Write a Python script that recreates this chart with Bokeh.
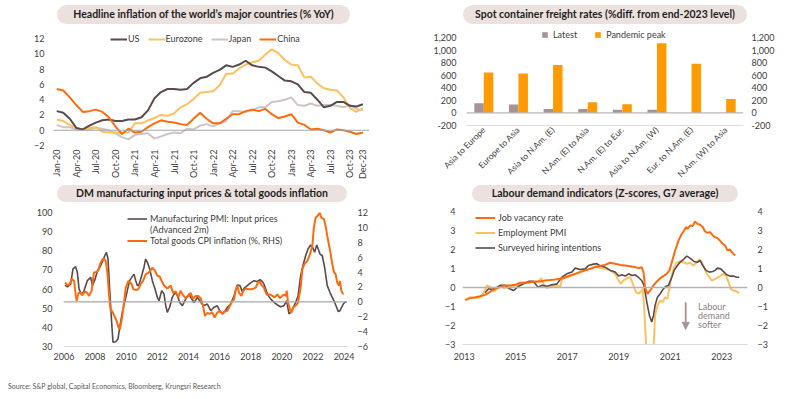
import pandas as pd
from math import pi
from bokeh.plotting import figure
from bokeh.models import (Range1d, LinearAxis, Span, Legend, LegendItem, FixedTicker,
                          NumeralTickFormatter, FactorRange, Div, Arrow, NormalHead, Label,
                          ColumnDataSource)
from bokeh.transform import dodge
from bokeh.layouts import column, row
from bokeh.embed import file_html
from bokeh.resources import INLINE

FONT = "Lato"
TXT = "#404040"
DARK = "#5b4a4a"
ORANGE = "#ff6a0d"
LIGHT_ORANGE = "#ffc160"
JAPAN = "#cfc4c4"
MAUVE = "#a89494"
PEAK = "#ff9a00"
PILL = "#ebe2df"
ZERO = "#a6a6a6"
AXIS_LIGHT = "#dcdcdc"

# ---------------- Panel 1: headline inflation ----------------
months = pd.date_range("2020-01-01", periods=48, freq="MS")
month_labels = [d.strftime("%b-%y") for d in months]
tick_labels_1 = ["Jan-20", "Apr-20", "Jul-20", "Oct-20", "Jan-21", "Apr-21", "Jul-21", "Oct-21",
                 "Jan-22", "Apr-22", "Jul-22", "Oct-22", "Jan-23", "Apr-23", "Jul-23", "Oct-23",
                 "Dec-23"]
us = [2.5, 2.3, 1.5, 0.3, 0.1, 0.6, 1.0, 1.3, 1.4, 1.2, 1.2, 1.4,
      1.4, 1.7, 2.6, 4.2, 5.0, 5.4, 5.4, 5.3, 5.4, 6.2, 6.8, 7.0,
      7.5, 7.9, 8.5, 8.3, 8.6, 9.1, 8.5, 8.3, 8.2, 7.7, 7.1, 6.5,
      6.4, 6.0, 5.0, 4.9, 4.0, 3.0, 3.2, 3.7, 3.7, 3.2, 3.1, 3.4]
eurozone = [1.4, 1.2, 0.7, 0.3, 0.1, 0.3, 0.4, -0.2, -0.3, -0.3, -0.3, -0.3,
            0.9, 0.9, 1.3, 1.6, 2.0, 1.9, 2.2, 3.0, 3.4, 4.1, 4.9, 5.0,
            5.1, 5.9, 7.4, 7.4, 8.1, 8.6, 8.9, 9.1, 9.9, 10.6, 10.1, 9.2,
            8.6, 8.5, 6.9, 7.0, 6.1, 5.5, 5.3, 5.2, 4.3, 2.9, 2.4, 2.9]
japan = [0.7, 0.4, 0.4, 0.1, 0.1, 0.1, 0.3, 0.2, 0.0, -0.4, -0.9, -1.2,
         -0.6, -0.5, -0.4, -1.1, -0.8, -0.5, -0.3, -0.4, 0.2, 0.1, 0.6, 0.8,
         0.5, 0.9, 1.2, 2.5, 2.5, 2.4, 2.6, 3.0, 3.0, 3.7, 3.8, 4.0,
         4.3, 3.3, 3.2, 3.5, 3.2, 3.3, 3.3, 3.2, 3.0, 3.3, 2.8, 2.6]
china = [5.4, 5.2, 4.3, 3.3, 2.4, 2.5, 2.7, 2.4, 1.7, 0.5, -0.5, 0.2,
         -0.3, -0.2, 0.4, 0.9, 1.3, 1.1, 1.0, 0.8, 0.7, 1.5, 2.3, 1.5,
         0.9, 0.9, 1.5, 2.1, 2.1, 2.5, 2.7, 2.5, 2.8, 2.1, 1.6, 1.8,
         2.1, 1.0, 0.7, 0.1, 0.2, 0.0, -0.3, 0.1, 0.0, -0.2, -0.5, -0.3]

# ---------------- Panel 2: freight rates ----------------
routes = ["Asia to Europe", "Europe to Asia", "Asia to N.Am. (E)", "N.Am. (E) to Asia",
          "N.Am. (E) to Eur.", "Asia to N.Am. (W)", "Eur. to N.Am. (E)", "N.Am. (W) to Asia"]
latest = [152, 136, 61, 61, 51, 51, 0, 0]
pandemic_peak = [645, 628, 762, 168, 140, 1108, 782, 222]

# ---------------- Panel 3: PMI input prices & goods CPI ----------------
pmi_year = [2006.07, 2006.22, 2006.43, 2006.58, 2006.75, 2006.86, 2006.97, 2007.14, 2007.29, 2007.50,
            2007.72, 2007.83, 2008.00, 2008.15, 2008.30, 2008.47, 2008.64, 2008.73, 2008.83, 2008.94,
            2009.05, 2009.15, 2009.32, 2009.47, 2009.60, 2009.75, 2009.92, 2010.07, 2010.22, 2010.35,
            2010.50, 2010.61, 2010.72, 2010.82, 2010.99, 2011.14, 2011.25, 2011.36, 2011.51, 2011.68,
            2011.85, 2012.00, 2012.11, 2012.28, 2012.43, 2012.54, 2012.64, 2012.79, 2012.96, 2013.14,
            2013.29, 2013.44, 2013.61, 2013.82, 2014.04, 2014.21, 2014.36, 2014.57, 2014.79, 2014.96,
            2015.21, 2015.43, 2015.64, 2015.86, 2016.03, 2016.18, 2016.33, 2016.50, 2016.71, 2016.93,
            2017.14, 2017.31, 2017.46, 2017.57, 2017.78, 2017.99, 2018.21, 2018.38, 2018.60, 2018.75,
            2018.85, 2019.02, 2019.17, 2019.32, 2019.50, 2019.71, 2019.92, 2020.14, 2020.31, 2020.46,
            2020.57, 2020.74, 2020.89, 2021.04, 2021.21, 2021.38, 2021.53, 2021.68, 2021.85, 2021.98,
            2022.11, 2022.24, 2022.34, 2022.45, 2022.60, 2022.75, 2022.92, 2023.09, 2023.24, 2023.39,
            2023.52, 2023.63, 2023.74, 2023.84, 2023.95, 2024.06, 2024.16]
pmi_value = [62.1, 61.2, 62.6, 70.5, 71.7, 68.7, 60.0, 56.9, 59.2, 64.4,
             66.1, 61.8, 65.2, 69.6, 71.3, 74.3, 77.8, 79.2, 75.7, 59.2,
             44.4, 32.2, 32.5, 33.9, 40.9, 47.8, 53.9, 59.2, 64.4, 66.1,
             67.8, 64.4, 61.8, 62.1, 67.0, 71.3, 75.7, 74.0, 70.5, 64.4,
             60.0, 55.7, 53.9, 59.2, 57.4, 51.3, 47.8, 50.5, 55.7, 58.3,
             56.5, 53.0, 51.3, 54.8, 57.4, 54.8, 53.0, 55.7, 53.1, 51.3,
             52.2, 48.7, 50.5, 51.3, 48.2, 47.0, 48.2, 50.5, 52.2, 56.5,
             62.1, 61.8, 58.6, 60.4, 61.8, 63.2, 64.4, 63.9, 64.9, 63.9,
             62.6, 58.6, 56.2, 54.5, 53.1, 51.7, 50.8, 51.3, 53.9, 47.0,
             47.8, 50.5, 53.1, 56.2, 67.0, 73.0, 77.4, 80.9, 83.0, 81.8,
             79.2, 83.0, 80.9, 78.3, 77.4, 71.3, 61.8, 58.3, 55.7, 53.1,
             50.5, 48.2, 48.7, 50.5, 52.2, 53.1, 53.4]
cpi_year = [2006.07, 2006.22, 2006.37, 2006.50, 2006.65, 2006.75, 2006.82, 2006.93, 2007.08, 2007.18,
            2007.35, 2007.50, 2007.61, 2007.78, 2007.93, 2008.08, 2008.21, 2008.32, 2008.47, 2008.57,
            2008.68, 2008.79, 2008.90, 2009.00, 2009.11, 2009.24, 2009.37, 2009.50, 2009.60, 2009.75,
            2009.86, 2009.97, 2010.14, 2010.22, 2010.35, 2010.46, 2010.61, 2010.78, 2010.93, 2011.08,
            2011.25, 2011.47, 2011.68, 2011.85, 2012.00, 2012.15, 2012.28, 2012.43, 2012.64, 2012.86,
            2013.01, 2013.18, 2013.35, 2013.50, 2013.65, 2013.82, 2013.99, 2014.14, 2014.29, 2014.46,
            2014.63, 2014.78, 2014.93, 2015.06, 2015.21, 2015.38, 2015.53, 2015.68, 2015.86, 2016.03,
            2016.18, 2016.33, 2016.50, 2016.67, 2016.82, 2016.93, 2017.03, 2017.14, 2017.25, 2017.40,
            2017.53, 2017.68, 2017.89, 2018.10, 2018.32, 2018.47, 2018.60, 2018.70, 2018.85, 2018.96,
            2019.07, 2019.24, 2019.39, 2019.54, 2019.71, 2019.88, 2020.03, 2020.14, 2020.25, 2020.31,
            2020.40, 2020.52, 2020.61, 2020.74, 2020.89, 2021.04, 2021.21, 2021.32, 2021.46, 2021.64,
            2021.81, 2021.96, 2022.06, 2022.17, 2022.32, 2022.43, 2022.54, 2022.71, 2022.81, 2022.96,
            2023.14, 2023.24, 2023.35, 2023.46, 2023.56, 2023.67, 2023.74, 2023.82, 2023.95]
cpi_value = [2.6, 2.2, 2.4, 3.1, 2.8, 1.0, 0.15, 1.2, 1.2, 0.9,
             1.4, 1.2, 0.8, 1.5, 3.95, 4.0, 4.2, 5.1, 5.7, 5.8,
             5.5, 3.95, 0.8, -1.2, -1.3, -1.9, -2.5, -3.4, -3.65, -1.9,
             -0.1, 1.9, 2.8, 2.7, 2.4, 1.7, 1.6, 1.7, 2.4, 2.8,
             3.7, 3.95, 4.6, 4.2, 3.5, 3.4, 2.8, 2.2, 1.8, 2.2,
             1.2, 1.4, 0.6, 1.5, 0.9, 0.5, 0.8, 1.2, 0.4, 0.8,
             0.8, 0.5, -0.5, -1.9, -1.5, -1.6, -1.4, -2.1, -1.4, -1.2,
             -1.6, -1.3, -1.2, -0.5, 0.15, 0.3, 1.5, 2.2, 1.2, 0.8,
             1.5, 1.8, 1.7, 1.7, 1.9, 2.6, 2.7, 2.25, 1.9, 1.3,
             0.9, 1.0, 0.8, 0.6, 1.0, 0.5, 0.8, 1.0, 0.8, 1.5,
             -0.1, -1.0, -1.5, -0.75, -0.5, -0.1, 1.9, 4.4, 5.1, 5.5,
             6.4, 7.5, 10.0, 11.3, 11.6, 12.0, 11.3, 11.1, 10.2, 8.4,
             6.4, 5.1, 4.0, 3.7, 2.6, 2.2, 2.8, 1.5, 1.0]

# ---------------- Panel 4: labour demand indicators ----------------
jv_year = [2013.04, 2013.23, 2013.43, 2013.62, 2013.81, 2013.94, 2014.07, 2014.20, 2014.40, 2014.59,
           2014.78, 2014.98, 2015.17, 2015.37, 2015.56, 2015.75, 2015.95, 2016.14, 2016.34, 2016.53,
           2016.72, 2016.92, 2017.11, 2017.31, 2017.50, 2017.70, 2017.89, 2018.08, 2018.28, 2018.47,
           2018.67, 2018.86, 2019.05, 2019.25, 2019.44, 2019.64, 2019.80, 2019.89, 2019.96, 2020.02,
           2020.11, 2020.22, 2020.35, 2020.48, 2020.61, 2020.73, 2020.86, 2020.97, 2021.06, 2021.19,
           2021.32, 2021.45, 2021.54, 2021.61, 2021.67, 2021.77, 2021.87, 2021.96, 2022.05, 2022.16,
           2022.26, 2022.35, 2022.44, 2022.55, 2022.65, 2022.74, 2022.83, 2022.93, 2023.04, 2023.13,
           2023.22, 2023.32, 2023.39, 2023.45, 2023.52]
jv_value = [-0.65, -0.56, -0.51, -0.46, -0.39, -0.28, -0.16, -0.07, 0.02, 0.11,
            0.11, 0.14, 0.25, 0.25, 0.28, 0.32, 0.32, 0.37, 0.39, 0.42,
            0.46, 0.54, 0.63, 0.72, 0.81, 0.90, 0.98, 1.07, 1.14, 1.19,
            1.30, 1.25, 1.19, 1.16, 1.12, 1.07, 1.02, 1.07, 0.81, 0.02,
            -0.33, -0.16, 0.11, 0.32, 0.49, 0.60, 0.72, 0.90, 1.33, 1.95,
            2.47, 2.83, 3.00, 3.18, 3.09, 3.26, 3.23, 3.47, 3.35, 3.30,
            3.18, 2.95, 2.88, 2.91, 2.74, 2.65, 2.60, 2.47, 2.30, 2.21,
            1.95, 2.00, 1.86, 1.77, 1.68]
emp_year = [2013.04, 2013.23, 2013.43, 2013.62, 2013.75, 2013.88, 2014.01, 2014.14, 2014.27, 2014.40,
            2014.53, 2014.66, 2014.78, 2014.95, 2015.11, 2015.24, 2015.37, 2015.50, 2015.60, 2015.75,
            2015.88, 2015.99, 2016.08, 2016.21, 2016.34, 2016.47, 2016.60, 2016.72, 2016.79, 2016.92,
            2017.11, 2017.31, 2017.50, 2017.70, 2017.89, 2018.08, 2018.28, 2018.47, 2018.67, 2018.86,
            2018.99, 2019.08, 2019.18, 2019.31, 2019.44, 2019.57, 2019.67, 2019.76, 2019.86, 2019.93,
            2019.98, 2020.05, 2020.12, 2020.28, 2020.35, 2020.41, 2020.50, 2020.61, 2020.71, 2020.80,
            2020.89, 2020.97, 2021.06, 2021.15, 2021.25, 2021.38, 2021.51, 2021.64, 2021.77, 2021.90,
            2022.03, 2022.13, 2022.22, 2022.31, 2022.42, 2022.52, 2022.61, 2022.70, 2022.81, 2022.93,
            2023.06, 2023.17, 2023.26, 2023.35, 2023.45, 2023.58, 2023.68]
emp_value = [-0.68, -0.51, -0.56, -0.51, -0.28, 0.11, 0.02, -0.21, -0.07, 0.11,
             -0.04, 0.02, 0.02, 0.11, 0.11, 0.19, 0.28, 0.25, 0.32, 0.25,
             0.32, 0.49, 0.19, -0.04, 0.11, 0.02, 0.11, 0.02, 0.42, 0.49,
             0.60, 0.72, 0.84, 0.93, 0.98, 1.12, 1.04, 0.98, 0.90, 0.72,
             0.37, 0.19, 0.37, 0.49, 0.54, 0.11, -0.25, -0.33, -0.21, -0.07,
             -0.95, -2.7, -5.5, -5.0, -3.2, -1.47, -0.95, -0.68, -0.77, -0.51,
             -0.60, 0.02, 0.63, 1.07, 1.30, 1.37, 1.33, 1.25, 1.30, 1.16,
             1.33, 1.47, 1.33, 1.07, 0.72, 0.54, 0.37, 0.42, 0.49, 0.60,
             0.72, 0.63, 0.28, -0.07, -0.16, -0.21, -0.28]
hire_year = [2013.81, 2013.94, 2014.07, 2014.20, 2014.40, 2014.59, 2014.72, 2014.91, 2015.11, 2015.30,
             2015.50, 2015.69, 2015.86, 2016.01, 2016.21, 2016.40, 2016.60, 2016.79, 2016.98, 2017.18,
             2017.31, 2017.50, 2017.70, 2017.82, 2018.02, 2018.15, 2018.28, 2018.47, 2018.67, 2018.86,
             2018.99, 2019.12, 2019.25, 2019.38, 2019.51, 2019.64, 2019.76, 2019.89, 2019.98, 2020.09,
             2020.19, 2020.28, 2020.35, 2020.41, 2020.50, 2020.61, 2020.73, 2020.84, 2020.93, 2021.06,
             2021.15, 2021.28, 2021.38, 2021.54, 2021.64, 2021.71, 2021.80, 2021.92, 2022.05, 2022.16,
             2022.26, 2022.39, 2022.52, 2022.65, 2022.74, 2022.83, 2022.96, 2023.09, 2023.19, 2023.32,
             2023.45, 2023.58, 2023.68]
hire_value = [-0.28, -0.07, -0.11, -0.04, 0.11, 0.11, -0.04, -0.16, 0.07, 0.19,
              0.32, 0.32, 0.02, 0.11, 0.07, 0.14, 0.19, 0.54, 0.72, 0.81,
              1.02, 0.95, 0.98, 1.16, 1.23, 1.25, 1.14, 1.07, 0.90, 0.81,
              0.60, 0.67, 0.60, 0.72, 0.63, 0.67, 0.54, 0.37, 0.11, -0.77,
              -1.47, -1.82, -1.47, -0.95, -0.51, -0.33, -0.07, 0.07, 0.11, 0.54,
              0.90, 1.16, 1.33, 1.51, 1.65, 1.60, 1.51, 1.37, 1.33, 1.42,
              1.16, 0.90, 0.81, 0.84, 0.90, 1.02, 0.98, 0.81, 0.67, 0.60,
              0.60, 0.54, 0.54]


# ---------------- helpers ----------------
def style_axis(ax, standoff=5, line=None, size="9px"):
    ax.axis_line_color = line
    ax.major_tick_line_color = None
    ax.minor_tick_line_color = None
    ax.major_tick_out = 0
    ax.major_tick_in = 0
    ax.minor_tick_out = 0
    ax.minor_tick_in = 0
    ax.major_label_text_font = FONT
    ax.major_label_text_font_size = size
    ax.major_label_text_color = TXT
    ax.major_label_standoff = standoff


def base_fig(**kw):
    p = figure(output_backend="svg", toolbar_location=None, outline_line_color=None,
               title=None, **kw)
    p.xgrid.visible = False
    p.ygrid.visible = False
    return p


def make_legend(items, **kw):
    return Legend(items=items, label_text_font=FONT, label_text_font_size="9px",
                  label_text_color=TXT, border_line_color=None, background_fill_alpha=0,
                  padding=0, margin=0, **kw)


def title_div(text, width, left, top, pill_w, h, total_h):
    html = (f'<div style="position:relative;left:{left}px;top:{top}px;width:{pill_w}px;'
            f'height:{h}px;line-height:{h}px;background:{PILL};border-radius:{h // 2 + 1}px;'
            f'text-align:center;font-family:Lato;font-weight:bold;font-size:10.5px;'
            f'color:#1e1e1e;white-space:nowrap;">{text}</div>')
    return Div(text=html, width=width, height=total_h, margin=0)


# ---------------- Panel 1 ----------------
x1 = list(range(len(month_labels)))
p1 = base_fig(width=400, height=160, x_range=Range1d(-0.5, 48),
              y_range=Range1d(-2, 12.8), min_border_left=53, min_border_right=31,
              min_border_top=7, min_border_bottom=40)
p1.add_layout(Span(location=0, dimension="width", line_color=ZERO, line_width=1.2))
r_jp = p1.line(x1, japan, line_color=JAPAN, line_width=2)
r_ez = p1.line(x1, eurozone, line_color=LIGHT_ORANGE, line_width=2)
r_us = p1.line(x1, us, line_color=DARK, line_width=2)
r_cn = p1.line(x1, china, line_color=ORANGE, line_width=2)
style_axis(p1.yaxis[0], standoff=9)
p1.yaxis[0].ticker = FixedTicker(ticks=list(range(-2, 13, 2)))
style_axis(p1.xaxis[0], standoff=4)
tick_pos_1 = [month_labels.index(t) for t in tick_labels_1]
p1.xaxis[0].ticker = FixedTicker(ticks=tick_pos_1)
p1.xaxis[0].major_label_overrides = {i: t for i, t in zip(tick_pos_1, tick_labels_1)}
p1.xaxis[0].major_label_orientation = pi / 2
lg1 = make_legend([LegendItem(label="US", renderers=[r_us]),
                   LegendItem(label="Eurozone", renderers=[r_ez]),
                   LegendItem(label="Japan", renderers=[r_jp]),
                   LegendItem(label="China", renderers=[r_cn])],
                  orientation="horizontal", location=(57, 101), glyph_width=17,
                  glyph_height=10, label_height=10, label_width=5, label_standoff=1,
                  spacing=8)
p1.add_layout(lg1)

# ---------------- Panel 2 ----------------
src2 = ColumnDataSource(dict(route=routes, latest=latest, peak=pandemic_peak))
p2 = base_fig(width=384, height=160, x_range=FactorRange(factors=routes, range_padding=0),
              y_range=Range1d(-200, 1343), min_border_left=66, min_border_right=41,
              min_border_top=3, min_border_bottom=60)
p2.add_layout(Span(location=0, dimension="width", line_color="#b8b8b8", line_width=1.2))
r_lat = p2.vbar(x=dodge("route", -0.137, range=p2.x_range), top="latest", width=0.274,
                source=src2, fill_color=MAUVE, line_color=None)
r_pk = p2.vbar(x=dodge("route", 0.137, range=p2.x_range), top="peak", width=0.274,
               source=src2, fill_color=PEAK, line_color=None)
ticks2 = list(range(-200, 1201, 200))
style_axis(p2.yaxis[0], standoff=10)
p2.yaxis[0].ticker = FixedTicker(ticks=ticks2)
p2.yaxis[0].formatter = NumeralTickFormatter(format="0,0")
p2.extra_y_ranges = {"r": Range1d(-200, 1343)}
ax2r = LinearAxis(y_range_name="r", ticker=FixedTicker(ticks=ticks2),
                  formatter=NumeralTickFormatter(format="0,0"))
style_axis(ax2r, standoff=8)
p2.add_layout(ax2r, "right")
style_axis(p2.xaxis[0], standoff=3, line=AXIS_LIGHT, size="8.5px")
p2.xaxis[0].major_label_orientation = pi / 4
lg2 = make_legend([LegendItem(label="Latest", renderers=[r_lat]),
                   LegendItem(label="Pandemic peak", renderers=[r_pk])],
                  orientation="horizontal", location=(75, 85), glyph_width=7,
                  glyph_height=7, label_height=10, label_standoff=5, spacing=17)
p2.add_layout(lg2)

# ---------------- Panel 3 ----------------
p3 = base_fig(width=400, height=165, x_range=Range1d(2005.97, 2024.22),
              y_range=Range1d(30, 100), min_border_left=63, min_border_right=53,
              min_border_top=9, min_border_bottom=22)
p3.extra_y_ranges = {"rhs": Range1d(-6, 12)}
p3.add_layout(Span(location=0, dimension="width", line_color=ZERO, line_width=1.2,
                   y_range_name="rhs"))
r_pmi = p3.line(pmi_year, pmi_value, line_color=DARK, line_width=1.6)
r_cpi = p3.line(cpi_year, cpi_value, y_range_name="rhs", line_color=ORANGE, line_width=2)
r_dummy = p3.line(x=[], y=[], line_alpha=0)
style_axis(p3.yaxis[0], standoff=11)
p3.yaxis[0].ticker = FixedTicker(ticks=list(range(30, 101, 10)))
ax3r = LinearAxis(y_range_name="rhs", ticker=FixedTicker(ticks=list(range(-6, 13, 2))))
style_axis(ax3r, standoff=10)
p3.add_layout(ax3r, "right")
style_axis(p3.xaxis[0], standoff=6, line=AXIS_LIGHT)
p3.xaxis[0].ticker = FixedTicker(ticks=list(range(2006, 2025, 2)))
lg3 = make_legend([LegendItem(label="Manufacturing PMI: Input prices", renderers=[r_pmi]),
                   LegendItem(label="(Advanced 2m)", renderers=[r_dummy]),
                   LegendItem(label="Total goods CPI inflation (%, RHS)", renderers=[r_cpi])],
                  orientation="vertical", location=(64, 100), glyph_width=20,
                  glyph_height=9, label_height=9, label_standoff=3, spacing=0)
p3.add_layout(lg3)

# ---------------- Panel 4 ----------------
p4 = base_fig(width=384, height=165, x_range=Range1d(2012.93, 2024.0),
              y_range=Range1d(-3, 4), min_border_left=62, min_border_right=37,
              min_border_top=8, min_border_bottom=24)
p4.extra_y_ranges = {"r": Range1d(-3, 4)}
p4.add_layout(Span(location=0, dimension="width", line_color="#b3b3b3", line_width=1.5))
r_emp = p4.line(emp_year, emp_value, line_color=LIGHT_ORANGE, line_width=2)
r_hire = p4.line(hire_year, hire_value, line_color=DARK, line_width=1.6)
r_jv = p4.line(jv_year, jv_value, line_color=ORANGE, line_width=2)
style_axis(p4.yaxis[0], standoff=7)
p4.yaxis[0].ticker = FixedTicker(ticks=list(range(-3, 5)))
ax4r = LinearAxis(y_range_name="r", ticker=FixedTicker(ticks=list(range(-3, 5))))
style_axis(ax4r, standoff=10)
p4.add_layout(ax4r, "right")
style_axis(p4.xaxis[0], standoff=8, line=AXIS_LIGHT)
p4.xaxis[0].ticker = FixedTicker(ticks=list(range(2013, 2024, 2)))
lg4 = make_legend([LegendItem(label="Job vacancy rate", renderers=[r_jv]),
                   LegendItem(label="Employment PMI", renderers=[r_emp]),
                   LegendItem(label="Surveyed hiring intentions", renderers=[r_hire])],
                  orientation="vertical", location=(13, 91), glyph_width=20,
                  glyph_height=11, label_height=11, label_standoff=3, spacing=4)
p4.add_layout(lg4)
p4.add_layout(Arrow(end=NormalHead(size=7, fill_color=MAUVE, line_color=MAUVE),
                    x_start=2021.6, y_start=-0.78, x_end=2021.6, y_end=-2.2,
                    line_color=MAUVE, line_width=1.8))
for txt, yy in [("Labour", -1.0), ("demand", -1.47), ("softer", -1.95)]:
    p4.add_layout(Label(x=2022.08, y=yy, text=txt, text_font=FONT, text_font_size="9px",
                        text_color="#8c7f7f", text_baseline="middle"))

# ---------------- Layout ----------------
t1 = title_div("Headline inflation of the world\u2019s major countries (% YoY)", 400, 57, 5, 293, 19, 25)
t2 = title_div("Spot container freight rates (%diff. from end-2023 level)", 384, 63, 5, 284, 19, 25)
t3 = title_div("DM manufacturing input prices &amp; total goods inflation", 400, 57, 0, 290, 17, 18)
t4 = title_div("Labour demand indicators (Z-scores, G7 average)", 384, 72, 0, 266, 17, 18)
src_div = Div(text='<div style="font-family:Lato;font-size:7px;color:#595959;'
                   'margin-top:13px;margin-left:8px;">'
                   'Source: S&amp;P global, Capital Economics, Bloomberg, Krungsri Research</div>',
              width=400, height=26, margin=0)

layout = column(row(column(t1, p1), column(t2, p2)),
                row(column(t3, p3), column(t4, p4)),
                src_div)

open("out.html", "w").write(file_html(layout, INLINE))
